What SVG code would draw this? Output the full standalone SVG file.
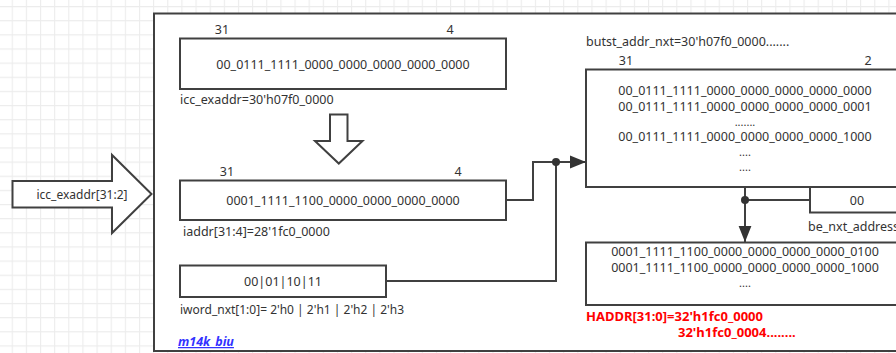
<svg xmlns="http://www.w3.org/2000/svg" width="896" height="353" viewBox="0 0 896 353">
  <defs>
    <pattern id="grid" patternUnits="userSpaceOnUse" x="11.7" y="6" width="14.14" height="14.14">
      <path d="M0 0.5 H14.14 M0.5 0 V14.14" fill="none" stroke="#ececec" stroke-width="1.2"/>
    </pattern>
    <marker id="arrow" viewBox="0 0 10 10" refX="10" refY="5" markerWidth="16" markerHeight="16" markerUnits="userSpaceOnUse" orient="auto">
      <path d="M0 1 L10 5 L0 9 Z" fill="#333"/>
    </marker>
    <style>
      .t { font-family: "Noto Sans", "Open Sans", sans-serif; font-size: 12.5px; fill: #333; }
      .c { text-anchor: middle; }
      .s { font-size: 11px; }
      .box { fill: #fff; stroke: #404040; stroke-width: 2; }
      .hollow { fill: #fff; stroke: #404040; stroke-width: 2; stroke-linejoin: miter; }
      .wire { fill: none; stroke: #404040; stroke-width: 2; }
      .dot { fill: #333; }
      .red { font-family: "Noto Sans", "Open Sans", sans-serif; font-size: 13px; font-weight: bold; fill: #ff0000; }
      .link { font-family: "Noto Sans", "Open Sans", sans-serif; font-size: 12.5px; font-weight: bold; font-style: italic; fill: #3333ff; text-decoration: underline; }
    </style>
  </defs>

  <!-- canvas grid -->
  <rect x="0" y="0" width="896" height="353" fill="#fff"/>
  <rect x="0" y="0" width="896" height="353" fill="url(#grid)"/>

  <!-- module frame -->
  <g id="m14k_biu">
    <rect x="154" y="13.5" width="760" height="337.5" fill="#fff" stroke="#404040" stroke-width="2"/>
    <text class="link" x="178" y="346">m14k_biu</text>
  </g>

  <!-- input bus arrow -->
  <g id="input_arrow">
    <path class="hollow" d="M12.5 181 H112 V155 L151.5 194 L112 233 V207.5 H12.5 Z"/>
    <text class="t c" x="82" y="198.5" style="font-size:12px">icc_exaddr[31:2]</text>
  </g>

  <!-- icc_exaddr register -->
  <g id="icc_exaddr">
    <text class="t c" x="222" y="34">31</text>
    <text class="t c" x="450" y="34">4</text>
    <rect class="box" x="180" y="38.5" width="326" height="50.5"/>
    <text class="t c" x="343" y="68.5">00_0111_1111_0000_0000_0000_0000_0000</text>
    <text class="t" x="180" y="104">icc_exaddr=30'h07f0_0000</text>
  </g>

  <!-- conversion arrow -->
  <g id="shift_arrow">
    <path class="hollow" d="M330 114.5 H347.5 V141 H362.5 L338.8 163.5 L315 141 H330 Z"/>
  </g>

  <!-- iaddr register -->
  <g id="iaddr">
    <text class="t c" x="227" y="176">31</text>
    <text class="t c" x="458" y="176">4</text>
    <rect class="box" x="180" y="180.5" width="326" height="39.5"/>
    <text class="t c" x="343" y="204.5">0001_1111_1100_0000_0000_0000_0000</text>
    <text class="t" x="183" y="236">iaddr[31:4]=28'1fc0_0000</text>
  </g>

  <!-- iword_nxt register -->
  <g id="iword_nxt">
    <rect class="box" x="180" y="265.5" width="206" height="31.5"/>
    <text class="t c" x="283" y="285.5">00|01|10|11</text>
    <text class="t" x="180" y="314" style="font-size:12px">iword_nxt[1:0]= 2'h0 | 2'h1 | 2'h2 | 2'h3</text>
  </g>

  <!-- burst address register -->
  <g id="burst_addr_nxt">
    <text class="t" x="586" y="46">butst_addr_nxt=30'h07f0_0000.......</text>
    <text class="t c" x="626" y="65">31</text>
    <text class="t c" x="868" y="65">2</text>
    <rect class="box" x="586" y="69.5" width="330" height="117.5"/>
    <text class="t c" x="745" y="95">00_0111_1111_0000_0000_0000_0000_0000</text>
    <text class="t c" x="745" y="111">00_0111_1111_0000_0000_0000_0000_0001</text>
    <text class="t c s" x="745" y="125.5">.......</text>
    <text class="t c" x="745" y="141">00_0111_1111_0000_0000_0000_0000_1000</text>
    <text class="t c s" x="745" y="155.5">....</text>
    <text class="t c s" x="745" y="171">....</text>
  </g>

  <!-- byte offset -->
  <g id="be_nxt_address">
    <rect class="box" x="810" y="187" width="106" height="25.5"/>
    <text class="t c" x="857" y="204.5">00</text>
    <text class="t" x="808" y="230.5">be_nxt_address</text>
  </g>

  <!-- bus address output -->
  <g id="haddr">
    <rect class="box" x="586" y="242.5" width="330" height="62.5"/>
    <text class="t c" x="745" y="256">0001_1111_1100_0000_0000_0000_0000_0100</text>
    <text class="t c" x="745" y="271.5">0001_1111_1100_0000_0000_0000_0000_1000</text>
    <text class="t c s" x="745" y="287">....</text>
    <text class="red" x="586" y="321">HADDR[31:0]=32'h1fc0_0000</text>
    <text class="red" x="678" y="337">32'h1fc0_0004........</text>
  </g>

  <!-- connectors -->
  <g id="connectors">
    <path class="wire" d="M506 200 H533 V162 H586" marker-end="url(#arrow)"/>
    <path class="wire" d="M386 281 H556 V162"/>
    <circle class="dot" cx="556" cy="162" r="4"/>
    <path class="wire" d="M745 187 V242" marker-end="url(#arrow)"/>
    <path class="wire" d="M745 200 H810"/>
    <circle class="dot" cx="745" cy="200" r="4"/>
  </g>
</svg>
